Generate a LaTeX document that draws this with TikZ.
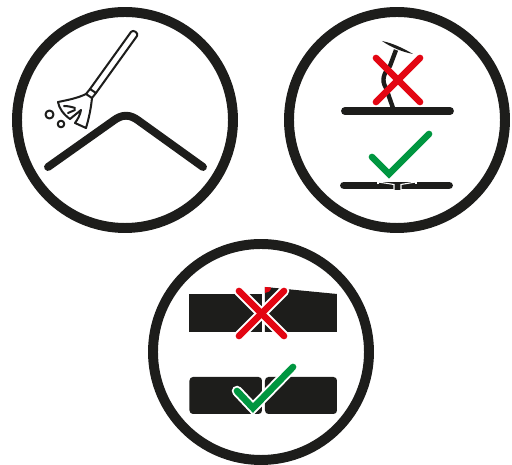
\documentclass[tikz,border=0pt]{standalone}
\definecolor{inkblack}{HTML}{1D1D1B}
\definecolor{crossred}{HTML}{E30613}
\definecolor{checkgreen}{HTML}{009640}
\tikzset{
  ring/.style={line width=5.67pt, draw=inkblack},
  bar/.style={line width=4.5pt, draw=inkblack, line cap=round},
  thinink/.style={line width=1.15pt, draw=inkblack, line join=round, line cap=round},
  crossline/.style={line width=3.8pt, draw=crossred, line cap=round},
  checkline/.style={line width=3.8pt, draw=checkgreen, line cap=round, line join=miter},
  halo/.style={line width=6pt, draw=white, line cap=round, line join=miter},
}
\begin{document}
\begin{tikzpicture}[x=0.02cm, y=-0.02cm]

  % --- 1. page ---
  \useasboundingbox (0,0) rectangle (512,465);

  % --- 2. rings ---
  \draw[ring] (125,120) circle (108);
  \draw[ring] (397,120) circle (108);
  \draw[ring] (261,352) circle (108);

  % --- 3. top left: roof and broom ---
  \draw[bar] (48,167) -- (113,121) .. controls (122,114) and (130,114) .. (139,121) -- (203,167);

  % handle
  \draw[thinink] (90,89) -- (131,32) .. controls (133,29) and (139,33) .. (137,36) -- (96,93);
  \draw[thinink] (90,89) -- (86,94) -- (92,98) -- (96,93) -- cycle;
  % head
  \draw[thinink] (86,94) .. controls (78,98) and (68,100) .. (58,102)
    .. controls (59,108) and (63,114) .. (70,119) -- (81,110)
    .. controls (80,115) and (78,119) .. (75,123) -- (86,128)
    .. controls (89,118) and (91,108) .. (92,98);
  \draw[thinink] (64,106) .. controls (68,106) and (72,107) .. (75,108);
  \draw[thinink] (68,113) -- (75,110);
  % dust
  \draw[thinink] (49.5,114.5) circle (4);
  \draw[thinink] (61,124) circle (3.3);

  % --- 4. top right: wrong screw and right screw ---
  \fill[inkblack] (382,41) .. controls (392,43) and (403,48) .. (413,54)
    .. controls (403,52) and (392,48) .. cycle;
  \draw[inkblack, line width=2.5pt] (396,50) -- (390,66)
    .. controls (384,73) and (381,80) .. (386,88) -- (393,108);
  \draw[bar] (345,111) -- (450,111);
  \draw[crossline] (376,58) -- (420,102);
  \draw[crossline] (420,58) -- (376,102);

  \draw[bar] (344,185.5) -- (449,185.5);
  \fill[inkblack] (378,182) -- (416,182) -- (416,184) -- (401,186) -- (401,190) -- (394,190) -- (394,186) -- (378,184) -- cycle;
  \draw[white, line width=0.6pt] (378,184.5) -- (378,181.5) -- (416,181.5) -- (416,184.5);
  \draw[white, line width=0.6pt] (378,182) -- (394,184.5) -- (394,190);
  \draw[white, line width=0.6pt] (416,182) -- (401,184.5) -- (401,190);
  \draw[checkline] (372,157) -- (389,174) -- (429,134);

  % --- 5. bottom: wrong joint and right joint ---
  \fill[inkblack] (189,294) rectangle (262,332);
  \fill[inkblack] (265,287) -- (337,294) -- (337,332) -- (265,332) -- cycle;
  \fill[crossred] (265,287) -- (271,287.5) .. controls (271,291) and (268,293) .. (265,293) -- cycle;
  \draw[halo] (239,291) -- (284,336);
  \draw[halo] (284,291) -- (239,336);
  \draw[crossline] (239,291) -- (284,336);
  \draw[crossline] (284,291) -- (239,336);

  \fill[inkblack, rounded corners=2pt] (189.5,377) rectangle (262,414);
  \fill[inkblack, rounded corners=2pt] (265,377) rectangle (337,414);
  \draw[halo] (237,391) -- (253,408) -- (293,367);
  \draw[checkline] (237,391) -- (253,408) -- (293,367);

\end{tikzpicture}
\end{document}
